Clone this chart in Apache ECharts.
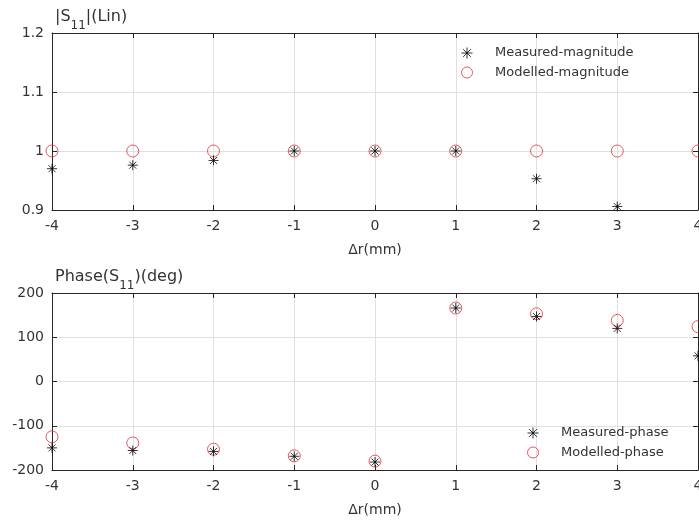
<!DOCTYPE html>
<html>
<head>
<meta charset="utf-8">
<script src="https://cdn.jsdelivr.net/npm/echarts@6/dist/echarts.min.js"></script>
<style>
html,body{margin:0;padding:0;background:#fff;}
#c{width:699px;height:525px;}
</style>
</head>
<body>
<div id="c"></div>
<script>
var dr = [-4, -3, -2, -1, 0, 1, 2, 3, 4];
var measuredMag = [0.970, 0.976, 0.984, 1.000, 1.000, 1.000, 0.953, 0.906, 0.860];
var modelledMag = [1.000, 1.000, 1.000, 1.000, 1.000, 1.000, 1.000, 1.000, 1.000];
var measuredPhase = [-150, -156, -158, -169, -182, 166, 147, 120, 58];
var modelledPhase = [-125, -139, -153, -168, -180, 166, 153, 138, 124];
var xTicks = [-4, -3, -2, -1, 0, 1, 2, 3, 4];
var magTicks = [0.9, 1.0, 1.1, 1.2];
var phaseTicks = [-200, -100, 0, 100, 200];

var FONT = 'DejaVu Sans, Liberation Sans, sans-serif';
var TXT = '#333333';
var LINE = '#262626';
var STAR = 'path://M0,-10L0,10M-10,0L10,0M-7,-7L7,7M-7,7L7,-7';
var RED = '#e0323c';
var FS = 14;

function pairs(y) { return dr.map(function (x, i) { return [x, y[i]]; }); }

function xAxisFor(gi) {
  return [{
    gridIndex: gi, type: 'value', min: -4, max: 4, interval: 1,
    name: 'Δr(mm)', nameLocation: 'middle', nameGap: 33,
    nameTextStyle: { color: TXT, fontFamily: FONT, fontSize: FS },
    axisLine: { show: true, onZero: false, lineStyle: { color: LINE, width: 1 } },
    axisTick: { show: true, inside: true, length: 5, lineStyle: { color: LINE } },
    axisLabel: { color: TXT, fontFamily: FONT, fontSize: FS, margin: 9,
      formatter: function (v) { return xTicks.indexOf(v) >= 0 ? String(v) : ''; } },
    splitLine: { show: true, lineStyle: { color: '#e0e0e0', width: 1 } }
  }, {
    gridIndex: gi, type: 'value', min: -4, max: 4, interval: 1, position: 'top',
    axisLine: { show: true, onZero: false, lineStyle: { color: LINE, width: 1 } },
    axisTick: { show: true, inside: true, length: 5, lineStyle: { color: LINE } },
    axisLabel: { show: false }, splitLine: { show: false }
  }];
}

function yAxisFor(gi, min, max, interval, ticks, nameRich, fmt) {
  return [{
    gridIndex: gi, type: 'value', min: min, max: max, interval: interval,
    name: nameRich, nameLocation: 'end', nameGap: 1,
    nameTextStyle: { align: 'left', verticalAlign: 'bottom', padding: [0, 0, 0, 3],
      rich: {
        a: { fontSize: 16, fontFamily: FONT, color: TXT, lineHeight: 31, verticalAlign: 'middle' },
        b: { fontSize: 12, fontFamily: FONT, color: TXT, lineHeight: 12, verticalAlign: 'bottom' }
      } },
    axisLine: { show: true, onZero: false, lineStyle: { color: LINE, width: 1 } },
    axisTick: { show: true, inside: true, length: 5, lineStyle: { color: LINE } },
    axisLabel: { color: TXT, fontFamily: FONT, fontSize: FS, margin: 8, formatter: fmt },
    splitLine: { show: true, lineStyle: { color: '#e0e0e0', width: 1 } }
  }, {
    gridIndex: gi, type: 'value', min: min, max: max, interval: interval, position: 'right',
    axisLine: { show: true, onZero: false, lineStyle: { color: LINE, width: 1 } },
    axisTick: { show: true, inside: true, length: 5, lineStyle: { color: LINE } },
    axisLabel: { show: false }, splitLine: { show: false }
  }];
}

var xa = xAxisFor(0).concat(xAxisFor(1));
var ya = yAxisFor(0, 0.9, 1.2, 0.1, magTicks, '{a|\u007CS}{b|11}{a|\u007C(Lin)}',
  function (v) { var r = Math.round(v * 10) / 10; return r === 1 ? '1' : r.toFixed(1); })
  .concat(yAxisFor(1, -200, 200, 100, phaseTicks, '{a|Phase(S}{b|11}{a|)(deg)}',
  function (v) { return String(Math.round(v)); }));

var starStyle = { color: 'none', borderColor: '#000', borderWidth: 1 };
var circStyle = { color: 'rgba(255,255,255,0)', borderColor: RED, borderWidth: 1 };

function legendItems(starName, circName) {
  return [
    { name: starName, icon: STAR, itemStyle: { color: 'none', borderColor: '#000', borderWidth: 1 } },
    { name: circName, icon: 'circle', itemStyle: { color: 'rgba(255,255,255,0)', borderColor: RED, borderWidth: 1 } }
  ];
}

var option = {
  animation: false,
  backgroundColor: '#fff',
  textStyle: { fontFamily: FONT },
  grid: [
    { left: 52, top: 33, width: 646, height: 177, show: false, outerBoundsMode: 'none', containLabel: false },
    { left: 52, top: 293, width: 646, height: 177, show: false, outerBoundsMode: 'none', containLabel: false }
  ],
  xAxis: xa,
  yAxis: ya,
  legend: [
    { data: legendItems('Measured-magnitude', 'Modelled-magnitude'), orient: 'vertical', left: 454, top: 40,
      itemWidth: 46, itemHeight: 11, itemGap: 5,
      textStyle: { color: TXT, fontFamily: FONT, fontSize: 13 } },
    { data: legendItems('Measured-phase', 'Modelled-phase'), orient: 'vertical', left: 520, top: 420,
      itemWidth: 46, itemHeight: 11, itemGap: 5,
      textStyle: { color: TXT, fontFamily: FONT, fontSize: 13 } }
  ],
  series: [
    { name: 'Modelled-magnitude', type: 'scatter', xAxisIndex: 0, yAxisIndex: 0, data: pairs(modelledMag),
      symbol: 'circle', symbolSize: 12, itemStyle: circStyle, clip: true },
    { name: 'Measured-magnitude', type: 'scatter', xAxisIndex: 0, yAxisIndex: 0, data: pairs(measuredMag),
      symbol: STAR, symbolSize: 10, itemStyle: starStyle, clip: true },
    { name: 'Modelled-phase', type: 'scatter', xAxisIndex: 2, yAxisIndex: 2, data: pairs(modelledPhase),
      symbol: 'circle', symbolSize: 12, itemStyle: circStyle, clip: true },
    { name: 'Measured-phase', type: 'scatter', xAxisIndex: 2, yAxisIndex: 2, data: pairs(measuredPhase),
      symbol: STAR, symbolSize: 10, itemStyle: starStyle, clip: true }
  ]
};
var chart = echarts.init(document.getElementById('c'), null, { renderer: 'canvas' });
chart.setOption(option);
</script>
</body>
</html>
